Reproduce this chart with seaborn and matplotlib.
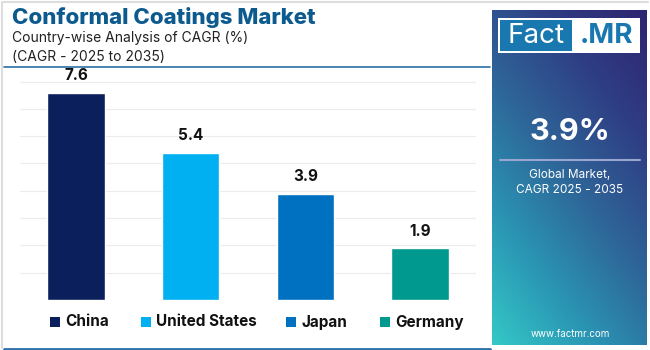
import numpy as np
import pandas as pd
import matplotlib
matplotlib.use('Agg')
import matplotlib.pyplot as plt
from matplotlib.patches import Rectangle
from matplotlib.colors import LinearSegmentedColormap
import seaborn as sb

countries = ['China', 'United States', 'Japan', 'Germany']
cagr = [7.6, 5.4, 3.9, 1.9]
colors = ['#0a1f5c', '#00b0f0', '#0070c0', '#009990']
global_cagr = '3.9%'

sb.set_style('white')
plt.rcParams['font.family'] = ['Inter', 'DejaVu Sans']

frame = pd.DataFrame({'country': countries, 'cagr': cagr})

W, H = 650, 350
fig = plt.figure(figsize=(W / 100, H / 100), dpi=100)
fig.patch.set_facecolor('white')


def fx(px):
    return px / W


def fy(py):
    return 1 - py / H


# main bar axes
ax = fig.add_axes([fx(20), fy(300), fx(456), (300 - 73.4) / H])
sb.barplot(data=frame, x='country', y='cagr', hue='country',
           palette=colors, width=0.5, legend=False, ax=ax, saturation=1)
ax.set_ylim(0, 8.3)
ax.set_xlim(-0.49, 3.49)
ax.set_yticks(range(0, 9))
ax.yaxis.grid(True, color='#ececec', linewidth=0.8)
ax.set_axisbelow(True)
ax.set_xticks([])
ax.set_yticklabels([])
ax.tick_params(left=False, bottom=False)
ax.set_xlabel('')
ax.set_ylabel('')
sb.despine(ax=ax, left=True, bottom=True)
for i, v in enumerate(cagr):
    ax.text(i, v + 0.35, f'{v}', ha='center', va='bottom',
            fontsize=11, fontweight='bold', color='#111111')

# title block
fig.text(fx(12), fy(18), 'Conformal Coatings Market', fontsize=16,
         fontweight='heavy', color='#0d5a8f', va='center', ha='left')
fig.text(fx(12), fy(38), 'Country-wise Analysis of CAGR (%)', fontsize=10,
         color='#222222', va='center', ha='left')
fig.text(fx(12), fy(57), '(CAGR - 2025 to 2035)', fontsize=10,
         color='#222222', va='center', ha='left')
fig.add_artist(plt.Line2D([fx(4), fx(490)], [fy(67), fy(67)],
                          color='#2a6fa8', linewidth=1.2))
fig.add_artist(plt.Line2D([fx(4), fx(490)], [fy(348.5), fy(348.5)],
                          color='#2a6fa8', linewidth=2))
fig.add_artist(plt.Line2D([fx(1.5), fx(1.5)], [fy(2), fy(348)],
                          color='#dddddd', linewidth=1.5))
fig.add_artist(plt.Line2D([fx(1.5), fx(648)], [fy(2), fy(2)],
                          color='#dddddd', linewidth=1.5))

# legend
leg_x = [50, 141, 286, 380]
for lx, name, c in zip(leg_x, countries, colors):
    fig.add_artist(Rectangle((fx(lx), fy(327)), fx(10), 10 / H,
                             facecolor=c, edgecolor='none'))
    fig.text(fx(lx + 15), fy(322), name, fontsize=11, fontweight='bold',
             color='#111111', va='center', ha='left')

# right panel with diagonal gradient
pax = fig.add_axes([fx(492), fy(345), fx(155), 335 / H])
cmap = LinearSegmentedColormap.from_list(
    'panel', ['#34c8c6', '#2a95b4', '#2e6598', '#2f3e84', '#2e2470'])
yy, xx = np.mgrid[0:1:200j, 0:1:100j]
grad = np.clip(yy * 0.62 + xx * 0.38, 0, 1)
pax.imshow(grad, cmap=cmap, aspect='auto', origin='lower',
           extent=[0, 1, 0, 1])
pax.set_xlim(0, 1)
pax.set_ylim(0, 1)
pax.axis('off')

# logo
fig.add_artist(Rectangle((fx(498), fy(53)), fx(142), 35 / H,
                         facecolor='white', edgecolor='none'))
fig.add_artist(Rectangle((fx(500), fy(51)), fx(72), 31 / H,
                         facecolor='#1a78b0', edgecolor='none'))
fig.text(fx(536), fy(36), 'Fact', fontsize=20, color='white',
         ha='center', va='center')
fig.text(fx(606), fy(36), '.MR', fontsize=20, color='#1a78b0',
         fontweight='bold', ha='center', va='center')

fig.text(fx(570), fy(132), global_cagr, fontsize=22, fontweight='bold',
         color='white', ha='center', va='center')
fig.add_artist(plt.Line2D([fx(500), fx(640)], [fy(160), fy(160)],
                          color='#9aa6cf', linewidth=1.5))
fig.text(fx(570), fy(175), 'Global Market,', fontsize=8.5, color='white',
         ha='center', va='center')
fig.text(fx(570), fy(190), 'CAGR 2025 - 2035', fontsize=8.5, color='white',
         ha='center', va='center')
fig.text(fx(570), fy(334), 'www.factmr.com', fontsize=7, color='white',
         ha='center', va='center')

fig.savefig('out.png', dpi=100)
